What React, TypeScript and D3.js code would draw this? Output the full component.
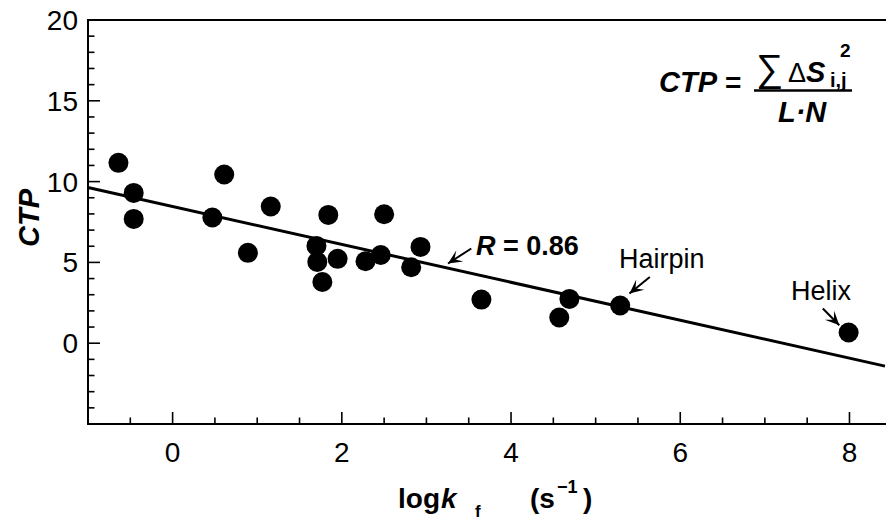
import React from "react";
import * as d3 from "d3";

// values
const logKf = [-0.64, -0.46, -0.46, 0.47, 0.61, 1.16, 0.89, 1.84, 2.5, 1.7, 1.71, 1.95, 1.77, 2.28, 2.46, 2.93, 2.82, 3.65, 4.69, 4.57, 5.29, 7.99];
const ctp = [11.16, 9.3, 7.69, 7.78, 10.44, 8.46, 5.59, 7.94, 7.98, 6.02, 5.03, 5.22, 3.79, 5.07, 5.46, 5.96, 4.7, 2.7, 2.74, 1.59, 2.33, 0.66];

const xMajor = [0, 2, 4, 6, 8];
const xMinor = d3.range(-0.5, 8.5, 0.5);
const yMajor = [0, 5, 10, 15, 20];
const yMinor = d3.range(-4, 20, 1);

// fitted line, R = 0.86
const fitIntercept = 8.46;
const fitSlope = -1.173;

// annotation arrows in data coordinates: tail -> tip
const notes = [
  { tail: [3.53, 5.86], tip: [3.255, 4.93] },
  { tail: [5.64, 4.1], tip: [5.4, 3.08] },
  { tail: [7.685, 2.15], tip: [7.88, 1.11] },
];

const W = 886;
const H = 520;
const font = "'Liberation Sans', Arial, Helvetica, sans-serif";

const arrowHead = (x1: number, y1: number, x2: number, y2: number) => {
  const dx = x2 - x1;
  const dy = y2 - y1;
  const len = Math.hypot(dx, dy);
  const ux = dx / len;
  const uy = dy / len;
  const nx = -uy;
  const ny = ux;
  const L = 14;
  const w = 6.5;
  const pts = [
    [x2, y2],
    [x2 - L * ux + w * nx, y2 - L * uy + w * ny],
    [x2 - 0.55 * L * ux, y2 - 0.55 * L * uy],
    [x2 - L * ux - w * nx, y2 - L * uy - w * ny],
  ];
  return "M" + pts.map((p) => p.join(",")).join("L") + "Z";
};

export default function App() {
  const x = d3.scaleLinear().domain([-1, 8.42]).range([88, 885]);
  const y = d3.scaleLinear().domain([-5, 20]).range([424, 20]);
  const [x0, x1] = x.domain();

  const fit = d3
    .line<number>()
    .x((d) => x(d))
    .y((d) => y(fitIntercept + fitSlope * d));

  return (
    <>
      <style>{`body{margin:0}`}</style>
      <svg width={W} height={H} style={{ display: "block", background: "#fff" }} fontFamily={font}>
        {/* frame */}
        <line x1={x(x0)} x2={W} y1={y(20)} y2={y(20)} stroke="#000" strokeWidth={2} />
        <line x1={x(x0)} x2={x(x0)} y1={y(20) - 1} y2={y(-5) + 1} stroke="#000" strokeWidth={2} />
        <line x1={x(x0) - 1} x2={W} y1={y(-5)} y2={y(-5)} stroke="#000" strokeWidth={2} />

        {/* y ticks */}
        {yMinor.map((t) => (
          <line key={"ym" + t} x1={x(x0)} x2={x(x0) + (t % 5 === 0 ? 12 : 6.5)} y1={y(t)} y2={y(t)} stroke="#000" strokeWidth={1.6} />
        ))}
        {yMajor.map((t) => (
          <text key={"yl" + t} x={78} y={y(t) + 10} textAnchor="end" fontSize={28}>
            {t}
          </text>
        ))}

        {/* x ticks */}
        {xMinor.map((t) => (
          <line key={"xm" + t} x1={x(t)} x2={x(t)} y1={y(-5)} y2={y(-5) - (t % 2 === 0 ? 12 : 6.5)} stroke="#000" strokeWidth={1.6} />
        ))}
        {xMajor.map((t) => (
          <text key={"xl" + t} x={x(t)} y={462} textAnchor="middle" fontSize={28}>
            {t}
          </text>
        ))}

        {/* fit line */}
        <path d={fit([x0, x1]) || ""} fill="none" stroke="#000" strokeWidth={3} />

        {/* points */}
        {logKf.map((v, i) => (
          <circle key={i} cx={x(v)} cy={y(ctp[i])} r={10} fill="#000" />
        ))}

        {/* annotation arrows */}
        {notes.map((n, i) => {
          const ax = x(n.tail[0]);
          const ay = y(n.tail[1]);
          const bx = x(n.tip[0]);
          const by = y(n.tip[1]);
          return (
            <g key={"a" + i}>
              <line x1={ax} y1={ay} x2={bx} y2={by} stroke="#000" strokeWidth={2} />
              <path d={arrowHead(ax, ay, bx, by)} fill="#000" />
            </g>
          );
        })}
        <text x={476} y={255} fontSize={27} fontWeight="bold">
          <tspan fontStyle="italic">R</tspan> = 0.86
        </text>
        <text x={619} y={268} fontSize={27}>
          Hairpin
        </text>
        <text x={791} y={300} fontSize={27}>
          Helix
        </text>

        {/* axis titles */}
        <text transform="translate(39,218) rotate(-90)" textAnchor="middle" fontSize={29} fontWeight="bold" fontStyle="italic">
          CTP
        </text>
        <text y={508} fontSize={28} fontWeight="bold">
          <tspan x={398}>log</tspan>
          <tspan x={441} fontStyle="italic">k</tspan>
          <tspan x={475} y={517} fontSize={17}>f</tspan>
          <tspan x={530} y={508}>(s</tspan>
          <tspan x={557} y={493} fontSize={18}>−1</tspan>
          <tspan x={583} y={508}>)</tspan>
        </text>

        {/* formula */}
        <g fontWeight="bold">
          <text x={659} y={92} fontSize={29} fontStyle="italic">CTP</text>
          <text x={725} y={92} fontSize={28}>=</text>
          <line x1={754} x2={852} y1={90.5} y2={90.5} stroke="#000" strokeWidth={2.5} />
          <text x={756} y={81} fontSize={38} fontWeight="normal">∑</text>
          <text x={788} y={82} fontSize={27} fontWeight="normal">Δ</text>
          <text x={806} y={82} fontSize={29} fontStyle="italic">S</text>
          <text x={840} y={57} fontSize={19}>2</text>
          <text x={830} y={87} fontSize={20}>i,j</text>
          <text x={778} y={122} fontSize={29} fontStyle="italic">L·N</text>
        </g>
      </svg>
    </>
  );
}
